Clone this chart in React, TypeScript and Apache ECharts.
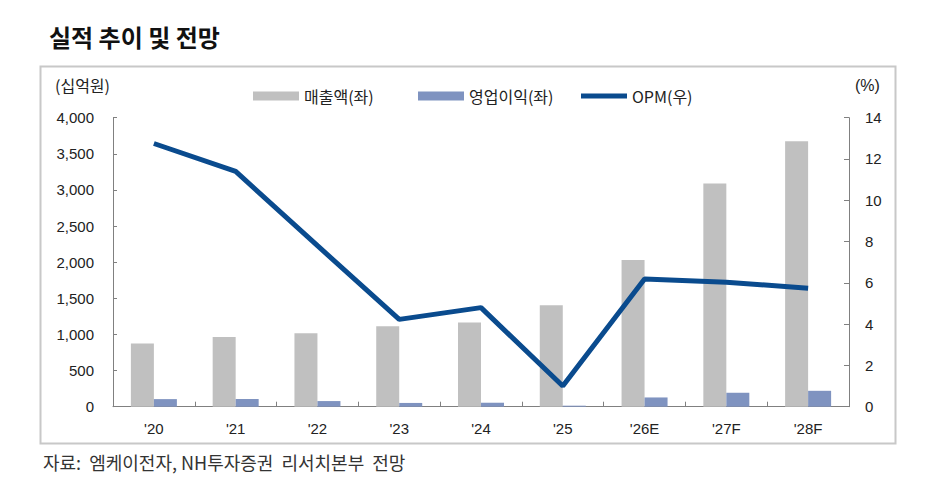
import React, { useEffect, useRef } from "react";
import * as echarts from "echarts";

const categories = ["'20", "'21", "'22", "'23", "'24", "'25", "'26E", "'27F", "'28F"];
const revenue = [875, 965, 1015, 1115, 1165, 1405, 2030, 3090, 3675];
const operatingProfit = [105, 105, 78, 52, 55, 14, 128, 193, 220];
const opm = [12.75, 11.4, 7.8, 4.23, 4.8, 1.0, 6.19, 6.03, 5.74];
const leftTicks = { min: 0, max: 4000, interval: 500 };
const rightTicks = { min: 0, max: 14, interval: 2 };

const FONT = "'Liberation Sans', Arial, 'Noto Sans CJK KR', sans-serif";
const KFONT = "'Noto Sans CJK KR', 'Liberation Sans', sans-serif";

export default function App() {
  const ref = useRef<HTMLDivElement>(null);
  useEffect(() => {
    const chart = echarts.init(ref.current!, null, { renderer: "svg" });
    const axisLine = { show: true, lineStyle: { color: "#808080", width: 1 } };
    const legendText = { fontFamily: KFONT, fontSize: 16, color: "#222" };
    chart.setOption({
      animation: false,
      backgroundColor: "#ffffff",
      textStyle: { fontFamily: FONT },
      grid: { left: 113, right: 79, top: 117.7, bottom: 95.3, containLabel: false },
      legend: [
        {
          data: [{ name: "매출액(좌)", icon: "rect" }],
          left: 253, top: 88, padding: 0, itemWidth: 46, itemHeight: 9, itemGap: 6,
          textStyle: legendText,
        },
        {
          data: [{ name: "영업이익(좌)", icon: "rect" }],
          left: 418, top: 88, padding: 0, itemWidth: 46, itemHeight: 9, itemGap: 6,
          textStyle: legendText,
        },
        {
          data: [{ name: "OPM(우)", icon: "rect" }],
          left: 581, top: 88, padding: 0, itemWidth: 46, itemHeight: 5, itemGap: 4,
          textStyle: legendText,
        },
      ],
      xAxis: {
        type: "category",
        data: categories,
        axisLine,
        axisTick: { show: true, inside: true, length: 5, lineStyle: { color: "#808080" } },
        axisLabel: { fontSize: 15, color: "#222", margin: 14, fontFamily: FONT },
      },
      yAxis: [
        {
          type: "value",
          ...leftTicks,
          axisLine,
          axisTick: { show: true, inside: true, length: 4, lineStyle: { color: "#808080" } },
          splitLine: { show: false },
          axisLabel: {
            fontSize: 15, color: "#222", margin: 19,
            formatter: (v: number) => v.toLocaleString("en-US"),
          },
        },
        {
          type: "value",
          ...rightTicks,
          position: "right",
          axisLine,
          axisTick: { show: true, inside: true, length: 5, lineStyle: { color: "#808080" } },
          splitLine: { show: false },
          axisLabel: { fontSize: 15, color: "#222", margin: 16 },
        },
      ],
      series: [
        {
          name: "매출액(좌)",
          type: "bar",
          data: revenue,
          barWidth: 23,
          barGap: "0%",
          itemStyle: { color: "#C0C0C0" },
        },
        {
          name: "영업이익(좌)",
          type: "bar",
          data: operatingProfit,
          barWidth: 23,
          barGap: "0%",
          itemStyle: { color: "#7F93C0" },
        },
        {
          name: "OPM(우)",
          type: "line",
          yAxisIndex: 1,
          data: opm,
          symbol: "none",
          lineStyle: { color: "#0A4B8E", width: 5 },
          itemStyle: { color: "#0A4B8E" },
          z: 5,
        },
      ],
      graphic: [
        {
          type: "rect",
          shape: { x: 40.5, y: 66.5, width: 855, height: 377 },
          style: { fill: "none", stroke: "#C8C8C8", lineWidth: 2 },
          silent: true,
        },
        {
          type: "text",
          left: 49, top: 24,
          style: { text: "실적 추이 및 전망", font: `bold 24px ${KFONT}`, fill: "#111" },
        },
        {
          type: "text",
          left: 55, top: 77,
          style: { text: "(십억원)", font: `16px ${KFONT}`, fill: "#222" },
        },
        {
          type: "text",
          left: 855, top: 77,
          style: { text: "(%)", font: `16px ${FONT}`, fill: "#222" },
        },
        {
          type: "text",
          left: 43, top: 453,
          style: { text: "자료:  엠케이전자, NH투자증권  리서치본부  전망", font: `18px ${KFONT}`, fill: "#333" },
        },
      ],
    });
    return () => chart.dispose();
  }, []);
  return (
    <div
      ref={ref}
      style={{ position: "fixed", left: 0, top: 0, width: 928, height: 502 }}
    />
  );
}
